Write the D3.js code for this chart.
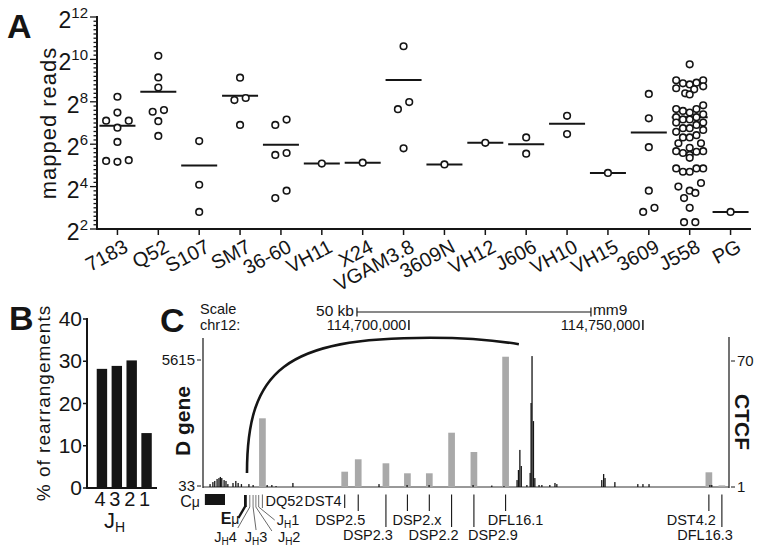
<!DOCTYPE html>
<html>
<head>
<meta charset="utf-8">
<script src="https://cdn.jsdelivr.net/npm/d3@7"></script>
<style>
  body { margin: 0; background: #fff; }
  svg { display: block; font-family: "Liberation Sans", Arial, Helvetica, sans-serif; }
</style>
</head>
<body>
<svg id="fig" width="762" height="556"></svg>
<script>
// ---- panel A: mapped reads per VH family ----
const families = ['7183', 'Q52', 'S107', 'SM7', '36-60', 'VH11', 'X24', 'VGAM3.8',
                  '3609N', 'VH12', 'J606', 'VH10', 'VH15', '3609', 'J558', 'PG'];
const reads7183   = [302, 180, 138, 138, 110, 69, 38, 36, 37];
const readsQ52    = [1150, 568, 407, 195, 185, 136, 84];
const readsS107   = [71, 17, 7];
const readsSM7    = [564, 290, 271, 120];
const reads3660   = [143, 120, 48, 45, 14, 11];
const readsVH11   = [34];
const readsX24    = [35];
const readsVGAM   = [1574, 254, 201, 56];
const reads3609N  = [33];
const readsVH12   = [67];
const readsJ606   = [80, 47];
const readsVH10   = [162, 89];
const readsVH15   = [25];
const reads3609   = [331, 149, 58, 14, 8, 7];
const readsJ558   = [873, 516, 516, 478, 468, 452, 425, 399, 385, 338, 326,
                     228, 202, 202, 190, 180, 170, 155, 155, 144, 144, 130, 130, 120,
                     108, 108, 102, 96, 86, 80, 80, 66, 66, 57, 51, 51, 50, 48, 45, 41,
                     29, 29, 29, 26, 26, 18, 16, 14, 13, 11, 8, 5, 5];
const readsPG     = [7];
const readsByFamily = [reads7183, readsQ52, readsS107, readsSM7, reads3660, readsVH11,
  readsX24, readsVGAM, reads3609N, readsVH12, readsJ606, readsVH10, readsVH15,
  reads3609, readsJ558, readsPG];
const meanReads = [117, 357, 32, 313, 63, 34, 35, 523, 33, 67, 64, 125, 25, 94, 155, 7];

// ---- panel B: JH usage ----
const jhSegments = ['4', '3', '2', '1'];
const jhPercent  = [28.2, 28.9, 30.2, 13.0];

// ---- panel C: IgH D region, chr12 (kb) ----
const dGeneNames = ['DQ52', 'DST4', 'DSP2.5', 'DSP2.3', 'DSP2.x', 'DSP2.x', 'DSP2.2',
                    'DSP2.9', 'DFL16.1', 'DST4.2', 'DFL16.3'];
const dGenePos   = [114668.70, 114686.28, 114689.17, 114695.09, 114699.68, 114704.36,
                    114709.12, 114713.89, 114720.66, 114764.10, 114766.88];
const dGeneReads = [3032, 667, 1216, 1039, 596, 596, 2394, 1539, 5760, 640, 60];
const ctcfPos = [114657.5, 114658.1, 114658.5, 114659.0, 114659.4, 114659.7, 114660.0,
  114660.5, 114660.9, 114661.3, 114662.4, 114663.0, 114663.5, 114664.2, 114665.8,
  114666.7, 114669.7, 114670.7, 114671.6, 114675.2, 114693.6, 114699.6, 114704.3,
  114713.7, 114717.7, 114720.3, 114723.1, 114723.4, 114723.7, 114724.0, 114725.2,
  114725.9, 114726.1, 114726.3, 114726.6, 114726.9, 114727.8, 114728.4, 114730.1,
  114731.2, 114731.6, 114741.2, 114741.6, 114741.9, 114744.0, 114748.9, 114750.0,
  114751.3, 114764.3, 114764.7];
const ctcfSignal = [2.6, 3.7, 4.3, 5.4, 5.9, 6.5, 5.9, 4.8, 4.3, 2.6, 3.2, 4.3, 3.2, 2.6,
  2.6, 2.1, 2.1, 2.1, 1.5, 3.2, 2.6, 2.1, 2.1, 2.1, 1.8, 1.5, 4.8, 10.3, 21.3, 12.5, 2.1,
  8.7, 47, 72.7, 37.1, 5.9, 2.1, 2.1, 2.1, 3.2, 2.6, 4.8, 8.1, 5.9, 3.7, 2.6, 2.6, 2.6,
  2.1, 2.1];
const jhNames = ['4', '3', '2', '1'];
const jhPos   = [114666.0, 114666.7, 114667.3, 114667.9];
const emuPos  = 114665.06;
const cmuSpan = [114656.4, 114660.7];
const scaleBarStart = 114688.9;   // 50 kb bar
const positionTicks = [114700, 114750];
const loopEnds = [114665.4, 114723.5];

const svg = d3.select('#fig');
const black = '#151515';

function panelLetter(t, x, y) {
  svg.append('text').attr('x', x).attr('y', y).attr('font-size', 34)
    .attr('font-weight', 'bold').attr('fill', black).text(t);
}

// ================= A =================
(function(){
  const x = d3.scalePoint().domain(families).range([97, 751]).padding(0.5);
  const y = d3.scaleLog().base(2).domain([4, 4096]).range([229, 17]);
  const g = svg.append('g');

  // minor ticks every 1/5 of a power of two, labels on even powers
  d3.range(10, 61).forEach(i => {
    const v = Math.pow(2, i / 5), major = i % 10 === 0;
    g.append('line').attr('x1', 97).attr('x2', major ? 90 : 93.5)
      .attr('y1', y(v)).attr('y2', y(v)).attr('stroke', black).attr('stroke-width', 1.3);
    if (major) {
      const t = g.append('text').attr('x', 88).attr('y', y(v) + 11)
        .attr('text-anchor', 'end').attr('font-size', 23).attr('fill', black);
      t.append('tspan').text('2');
      t.append('tspan').attr('font-size', 15).attr('dy', -10).text(i / 5);
    }
  });
  g.append('line').attr('x1', 97).attr('x2', 97).attr('y1', 16).attr('y2', 230)
    .attr('stroke', black).attr('stroke-width', 2);
  g.append('line').attr('x1', 96).attr('x2', 751).attr('y1', 229).attr('y2', 229)
    .attr('stroke', black).attr('stroke-width', 2);

  families.forEach(f => {
    g.append('line').attr('x1', x(f)).attr('x2', x(f)).attr('y1', 229).attr('y2', 235)
      .attr('stroke', black).attr('stroke-width', 1.5);
    g.append('text').attr('transform', `translate(${x(f) + 12},${251}) rotate(-28)`)
      .attr('text-anchor', 'end').attr('font-size', 20).attr('fill', black).text(f);
  });

  svg.append('text').attr('transform', 'translate(56,123) rotate(-90)')
    .attr('text-anchor', 'middle').attr('font-size', 22).attr('letter-spacing', 1)
    .attr('fill', black).text('mapped reads');

  // Prism-like scatter: points grouped in rows, spread symmetrically
  function swarm(values, cx) {
    const pts = values.map(v => ({ v, y: y(v) })).sort((a, b) => a.y - b.y);
    const bins = [];
    pts.forEach(p => {
      const bin = bins[bins.length - 1];
      if (bin && p.y - bin[0].y <= 7.8 && bin.length < 5) bin.push(p);
      else bins.push([p]);
    });
    bins.forEach(bin => {
      const n = bin.length;
      const gap = n <= 3 ? 11.3 : 27 / (n - 1);
      const slots = d3.range(n).map(i => i - (n - 1) / 2)
        .sort((a, b) => Math.abs(b) - Math.abs(a) || b - a);
      bin.forEach((p, i) => { p.x = cx + slots[i] * gap; });
    });
    return pts;
  }

  families.forEach((f, i) => {
    g.append('line').attr('x1', x(f) - 18).attr('x2', x(f) + 18)
      .attr('y1', y(meanReads[i])).attr('y2', y(meanReads[i]))
      .attr('stroke', black).attr('stroke-width', 2);
    g.selectAll(null).data(swarm(readsByFamily[i], x(f))).enter().append('circle')
      .attr('cx', d => d.x).attr('cy', d => d.y).attr('r', 3.3)
      .attr('fill', '#fff').attr('stroke', black).attr('stroke-width', 1.6);
  });

  panelLetter('A', 7, 38);
})();

// ================= B =================
(function(){
  const y = d3.scaleLinear().domain([0, 40]).range([488, 319]);
  const x = d3.scaleBand().domain(jhSegments).range([94.5, 154])
    .paddingInner(0.3).paddingOuter(0.15);
  const g = svg.append('g');

  g.selectAll(null).data(jhSegments).enter().append('rect')
    .attr('x', d => x(d)).attr('width', x.bandwidth())
    .attr('y', (d, i) => y(jhPercent[i])).attr('height', (d, i) => y(0) - y(jhPercent[i]))
    .attr('fill', black);

  y.ticks(4).forEach(v => {
    g.append('line').attr('x1', 83).attr('x2', 87).attr('y1', y(v)).attr('y2', y(v))
      .attr('stroke', black).attr('stroke-width', 1.5);
    g.append('text').attr('x', 82).attr('y', y(v) + 7).attr('text-anchor', 'end')
      .attr('font-size', 21).attr('fill', black).text(v);
  });
  g.append('line').attr('x1', 87).attr('x2', 87).attr('y1', 318).attr('y2', 489)
    .attr('stroke', black).attr('stroke-width', 2);
  g.append('line').attr('x1', 86).attr('x2', 157).attr('y1', 488).attr('y2', 488)
    .attr('stroke', black).attr('stroke-width', 2);

  jhSegments.forEach(d => {
    g.append('text').attr('x', x(d) + x.bandwidth() / 2 - 2).attr('y', 506)
      .attr('text-anchor', 'middle').attr('font-size', 20).attr('fill', black).text(d);
  });
  const jt = g.append('text').attr('x', 104).attr('y', 528).attr('font-size', 22).attr('fill', black);
  jt.append('tspan').text('J');
  jt.append('tspan').attr('font-size', 14).attr('dy', 4).text('H');

  svg.append('text').attr('transform', 'translate(50,403) rotate(-90)')
    .attr('text-anchor', 'middle').attr('font-size', 19).attr('letter-spacing', 1)
    .attr('fill', black).text('% of rearrangements');

  panelLetter('B', 9, 330);
})();

// ================= C =================
(function(){
  const x = d3.scaleLinear().domain([114656, 114768.4]).range([203, 729]);
  const yD = d3.scaleLinear().domain([33, 5615]).range([486, 360]);
  const yC = d3.scaleLinear().domain([1, 70]).range([487, 361]);
  const base = 487;
  const g = svg.append('g').attr('font-size', 14.5).attr('fill', black);

  // header: scale bar and coordinates
  g.append('text').attr('x', 200).attr('y', 313.5).attr('font-size', 14.5).text('Scale');
  g.append('text').attr('x', 200).attr('y', 330).attr('font-size', 14.5).text('chr12:');
  const sb0 = x(scaleBarStart), sb1 = x(scaleBarStart + 50);
  g.append('path').attr('d', `M${sb0},307.5V316.5M${sb0},312H${sb1}M${sb1},307.5V316.5`)
    .attr('stroke', black).attr('stroke-width', 1.2).attr('fill', 'none');
  g.append('text').attr('x', sb0 - 3).attr('y', 316).attr('text-anchor', 'end')
    .attr('font-size', 15.5).text('50 kb');
  g.append('text').attr('x', sb1 + 2).attr('y', 315).attr('font-size', 15.5).text('mm9');
  positionTicks.forEach(p => {
    g.append('line').attr('x1', x(p)).attr('x2', x(p)).attr('y1', 320).attr('y2', 330)
      .attr('stroke', black).attr('stroke-width', 1.5);
    g.append('text').attr('x', x(p) - 2.5).attr('y', 330).attr('text-anchor', 'end')
      .text(d3.format(',')(p * 1000));
  });

  // track frame
  g.append('line').attr('x1', 203).attr('x2', 203).attr('y1', 338).attr('y2', 488)
    .attr('stroke', black).attr('stroke-width', 1.2);
  g.append('line').attr('x1', 729).attr('x2', 729).attr('y1', 337).attr('y2', 488)
    .attr('stroke', black).attr('stroke-width', 1.2);
  g.append('line').attr('x1', 203).attr('x2', 729).attr('y1', base).attr('y2', base)
    .attr('stroke', '#333').attr('stroke-width', 1);

  [5615, 33].forEach(v => {
    g.append('line').attr('x1', 197).attr('x2', 201).attr('y1', yD(v)).attr('y2', yD(v))
      .attr('stroke', black);
    g.append('text').attr('x', 195).attr('y', yD(v) + 5).attr('text-anchor', 'end')
      .attr('font-size', 15).text(v);
  });
  [70, 1].forEach(v => {
    g.append('line').attr('x1', 731).attr('x2', 735).attr('y1', yC(v)).attr('y2', yC(v))
      .attr('stroke', black);
    g.append('text').attr('x', 737).attr('y', yC(v) + 5).attr('font-size', 15).text(v);
  });
  svg.append('text').attr('transform', 'translate(190,421) rotate(-90)')
    .attr('text-anchor', 'middle').attr('font-size', 21).attr('font-weight', 'bold')
    .attr('fill', black).text('D gene');
  svg.append('text').attr('transform', 'translate(735,422) rotate(90)')
    .attr('text-anchor', 'middle').attr('font-size', 21).attr('font-weight', 'bold')
    .attr('fill', black).text('CTCF');

  // D gene read bars (grey) and CTCF signal (black)
  const barKb = 1.43;
  g.selectAll(null).data(dGenePos).enter().append('rect')
    .attr('x', d => x(d - barKb / 2)).attr('width', x(barKb) - x(0))
    .attr('y', (d, i) => yD(dGeneReads[i])).attr('height', (d, i) => base - yD(dGeneReads[i]))
    .attr('fill', '#a9a9a9');
  g.selectAll(null).data(ctcfPos).enter().append('rect')
    .attr('x', d => x(d) - 0.6).attr('width', 1.3)
    .attr('y', (d, i) => yC(ctcfSignal[i])).attr('height', (d, i) => base - yC(ctcfSignal[i]))
    .attr('fill', black);

  // loop from Emu/JH to DFL16.1
  const lx0 = x(loopEnds[0]), lx1 = x(loopEnds[1]);
  const top = 337.7, xTop = lx0 + 183;
  g.append('path')
    .attr('d', `M${lx0},473 C${lx0},370 ${lx0 + 38},${top} ${xTop},${top} ` +
               `C${xTop + 30},${top} ${lx1 - 24},340 ${lx1},344.3`)
    .attr('fill', 'none').attr('stroke', black).attr('stroke-width', 2.6);

  // gene annotation
  g.append('rect').attr('x', x(cmuSpan[0])).attr('width', x(cmuSpan[1]) - x(cmuSpan[0]))
    .attr('y', 494).attr('height', 11).attr('fill', black);
  const cm = g.append('text').attr('x', x(cmuSpan[0]) - 5).attr('y', 507)
    .attr('text-anchor', 'end').attr('font-size', 16);
  cm.append('tspan').text('C');
  cm.append('tspan').attr('font-size', 14).text('μ');

  const ex = x(emuPos);
  g.append('rect').attr('x', ex - 1.4).attr('width', 2.8).attr('y', 495).attr('height', 12)
    .attr('fill', black);
  g.append('line').attr('x1', ex).attr('y1', 506).attr('x2', ex - 7).attr('y2', 518)
    .attr('stroke', black).attr('stroke-width', 2.4);
  const em = g.append('text').attr('x', ex - 6).attr('y', 524).attr('text-anchor', 'end')
    .attr('font-size', 16);
  em.append('tspan').attr('font-weight', 'bold').text('E');
  em.append('tspan').attr('font-size', 14).text('μ');

  const jhLayout = [
    { lead: -12, leadY: 528, lx: -13, ly: 542, anchor: 'end' },
    { lead: 3, leadY: 530, lx: 3, ly: 542, anchor: 'middle' },
    { lead: 16, leadY: 531, lx: 22, ly: 542, anchor: 'start' },
    { lead: 16, leadY: 520, lx: 18, ly: 525, anchor: 'start' }
  ];
  jhPos.forEach((p, i) => {
    const jx = x(p), L = jhLayout[i];
    g.append('line').attr('x1', jx).attr('x2', jx).attr('y1', 495).attr('y2', 507)
      .attr('stroke', '#777').attr('stroke-width', 1);
    g.append('line').attr('x1', jx).attr('y1', 507).attr('x2', jx + L.lead).attr('y2', L.leadY)
      .attr('stroke', '#444').attr('stroke-width', 0.8);
    const t = g.append('text').attr('x', jx + L.lx).attr('y', L.ly).attr('text-anchor', L.anchor);
    t.append('tspan').text('J');
    t.append('tspan').attr('font-size', 10).attr('dy', 3).text('H');
    t.append('tspan').attr('dy', -3).text(jhNames[i]);
  });

  const rowY = { 1: 506, 2: 525, 3: 540 };
  const tickEnd = { 1: 508, 2: 511, 3: 527 };
  const dLabel = [
    { row: 1, anchor: 'start', dx: 3 },
    { row: 1, anchor: 'end', dx: -3 },
    { row: 2, anchor: 'end', dx: 7 },
    { row: 3, anchor: 'end', dx: 7 },
    { row: 2, anchor: 'start', dx: -15 },
    { row: 2, anchor: null },
    { row: 3, anchor: 'end', dx: 7 },
    { row: 3, anchor: 'start', dx: -6 },
    { row: 2, anchor: 'middle', dx: 10 },
    { row: 2, anchor: 'end', dx: 7 },
    { row: 3, anchor: 'end', dx: 11 }
  ];
  dGenePos.forEach((p, i) => {
    const gx = x(p), L = dLabel[i];
    g.append('line').attr('x1', gx).attr('x2', gx).attr('y1', 494.5).attr('y2', tickEnd[L.row])
      .attr('stroke', i === 0 ? '#777' : black).attr('stroke-width', 1.1);
    if (L.anchor) {
      g.append('text').attr('x', gx + L.dx).attr('y', rowY[L.row])
        .attr('text-anchor', L.anchor).text(dGeneNames[i]);
    }
  });

  panelLetter('C', 160, 332);
})();
</script>
</body>
</html>
